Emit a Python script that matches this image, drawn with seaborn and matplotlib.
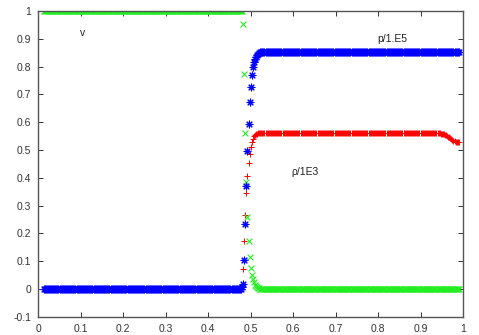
import numpy as np
import pandas as pd
import matplotlib
matplotlib.use("Agg")
import matplotlib.pyplot as plt
import seaborn as sns

# sampling positions (392 cells)
N = 392
x = np.round(0.0125 + 0.0025 * np.arange(N), 4)

# density / 1E3
rho_jump = [0.008, 0.073, 0.173, 0.267, 0.345, 0.407, 0.453, 0.486, 0.510, 0.528,
            0.541, 0.549, 0.554, 0.557, 0.559, 0.560]
rho_tail = [0.561, 0.560, 0.559, 0.558, 0.557, 0.556, 0.554, 0.552, 0.550, 0.548,
            0.545, 0.542, 0.539, 0.536, 0.533, 0.531, 0.530, 0.529, 0.528, 0.528]
rho = [0.0] * 187 + rho_jump + [0.561] * 169 + rho_tail

# velocity
v_jump = [0.953, 0.775, 0.561, 0.386, 0.26, 0.173, 0.116, 0.076, 0.05, 0.035,
          0.023, 0.015, 0.01, 0.006, 0.004, 0.002, 0.001]
v = [1.0] * 188 + v_jump + [0.0] * 187

# pressure / 1E5
p_jump = [0.005, 0.019, 0.104, 0.234, 0.372, 0.495, 0.595, 0.673, 0.727, 0.769,
          0.797, 0.815, 0.827, 0.836, 0.842, 0.846, 0.849, 0.851, 0.852]
p = [0.0] * 187 + p_jump + [0.853] * 186

x_ticks = [0, 0.1, 0.2, 0.3, 0.4, 0.5, 0.6, 0.7, 0.8, 0.9, 1]
y_ticks = [-0.1, 0, 0.1, 0.2, 0.3, 0.4, 0.5, 0.6, 0.7, 0.8, 0.9, 1]
x_labels = ["0", "0.1", "0.2", "0.3", "0.4", "0.5", "0.6", "0.7", "0.8", "0.9", "1"]
y_labels = ["-0.1", "0", "0.1", "0.2", "0.3", "0.4", "0.5", "0.6", "0.7", "0.8", "0.9", "1"]

df = pd.DataFrame({"x": x, "rho": rho, "v": v, "p": p})

sns.set_style("white")
plt.rcParams['font.family'] = ['Liberation Sans', 'DejaVu Sans']

fig = plt.figure(figsize=(4.79, 3.35), dpi=100)
ax = fig.add_axes([0.08, 0.0547, 0.8866, 0.9125])

sns.scatterplot(data=df, x="x", y="rho", marker="+", color="#ff0000", s=24,
                linewidth=0.7, ax=ax, legend=False)
sns.scatterplot(data=df, x="x", y="v", marker="x", color="#22ee22", s=18,
                linewidth=0.8, ax=ax, legend=False)
sns.scatterplot(data=df, x="x", y="p", marker=(8, 2, 0), color="#0000ff", s=24,
                linewidth=0.8, ax=ax, legend=False)

ax.set_xlim(0, 1)
ax.set_ylim(-0.1, 1)
ax.set_xticks(x_ticks)
ax.set_xticklabels(x_labels)
ax.set_yticks(y_ticks)
ax.set_yticklabels(y_labels)
ax.set_xlabel("")
ax.set_ylabel("")
ax.tick_params(direction="in", length=3.5, width=0.7, labelsize=7.5, colors="#333333",
               top=True, right=True, bottom=True, left=True, pad=5)
for s in ax.spines.values():
    s.set_visible(True)
    s.set_color("#555555")
    s.set_linewidth(1.0)

ax.text(0.105, 0.92, "v", fontsize=7.5, ha="center", va="center", color="#222222")
ax.text(0.833, 0.898, "p/1.E5", fontsize=7.5, ha="center", va="center", color="#222222")
ax.text(0.629, 0.42, "ρ/1E3", fontsize=7.5, ha="center", va="center", color="#222222")

fig.savefig("out.png", dpi=100)
